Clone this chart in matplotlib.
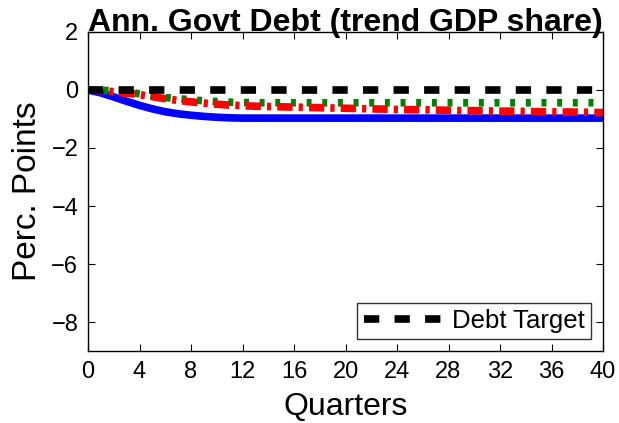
import numpy as np
import matplotlib
matplotlib.use("Agg")
import matplotlib.pyplot as plt

plt.rcParams['font.family'] = ['Liberation Sans', 'DejaVu Sans']

quarters = list(range(0, 41))
debt_target = [0.0] * 41
blue = [0.0, -0.10, -0.24, -0.39, -0.53, -0.65, -0.75, -0.82, -0.87, -0.91, -0.94, -0.96, -0.97, -0.97, -0.97,
        -0.97, -0.97, -0.97, -0.97, -0.97, -0.97, -0.97, -0.97, -0.97, -0.97, -0.97, -0.97, -0.97, -0.97, -0.97,
        -0.97, -0.97, -0.97, -0.97, -0.97, -0.97, -0.97, -0.97, -0.97, -0.97, -0.97]
green = [0.0, -0.01, -0.03, -0.07, -0.13, -0.20, -0.26, -0.30, -0.34, -0.37, -0.40, -0.42, -0.43, -0.44, -0.44,
         -0.44, -0.44, -0.44, -0.44, -0.44, -0.44, -0.44, -0.44, -0.44, -0.44, -0.44, -0.44, -0.44, -0.44, -0.44,
         -0.44, -0.44, -0.44, -0.44, -0.44, -0.44, -0.44, -0.44, -0.44, -0.44, -0.44]
red = [0.0, -0.02, -0.06, -0.11, -0.16, -0.23, -0.30, -0.36, -0.41, -0.45, -0.49, -0.52, -0.54, -0.56, -0.57,
       -0.58, -0.59, -0.60, -0.61, -0.62, -0.63, -0.64, -0.65, -0.66, -0.67, -0.68, -0.68, -0.69, -0.70, -0.71,
       -0.71, -0.72, -0.73, -0.73, -0.74, -0.75, -0.75, -0.76, -0.76, -0.77, -0.78]
xticks = list(range(0, 41, 4))
yticks = [2, 0, -2, -4, -6, -8]

fig = plt.figure(figsize=(6.19, 4.23), dpi=100)
ax = fig.add_axes([88/619, 1 - 351/423, (603-88)/619, (351-32)/423])

LW = 5.5
ax.plot(quarters, blue, color='blue', lw=LW, solid_capstyle='butt')
ax.plot(quarters, green, color='green', lw=LW, linestyle=(0, (0.65, 1.4)))
ax.plot(quarters, red, color='red', lw=LW, linestyle=(0, (2.0, 0.8, 0.55, 0.8)))
ln, = ax.plot(quarters, debt_target, color='black', lw=LW, linestyle=(0, (2.0, 2.0)), label='Debt Target')

ax.set_xlim(0, 40)
ax.set_ylim(-9, 2)
ax.set_xticks(xticks)
ax.set_yticks(yticks)
ax.set_yticklabels(['2', '0', '\u22122', '\u22124', '\u22126', '\u22128'])
ax.tick_params(direction='in', top=True, right=True, labelsize=17, length=5, width=0.8, pad=7)
for s in ax.spines.values():
    s.set_linewidth(1.0)

ax.set_title('Ann. Govt Debt (trend GDP share)', fontsize=23, fontweight='bold', pad=1)
ax.set_xlabel('Quarters', fontsize=23, labelpad=7)
ax.set_ylabel('Perc. Points', fontsize=24, labelpad=6)

leg = ax.legend(handles=[ln], loc='lower right', fontsize=18.5, frameon=True, fancybox=False,
                edgecolor='black', handlelength=3.15, borderpad=0.25, handletextpad=0.3,
                borderaxespad=0.45)
leg.get_frame().set_linewidth(1.0)

fig.savefig('out.png', dpi=100)
